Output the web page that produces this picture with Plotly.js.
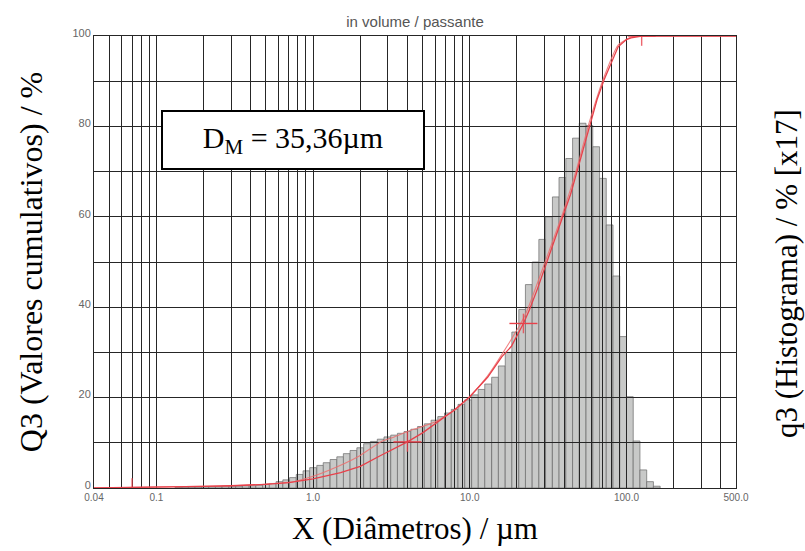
<!DOCTYPE html>
<html><head><meta charset="utf-8">
<script src="https://cdn.plot.ly/plotly-3.0.1.min.js"></script>
<style>html,body{margin:0;padding:0;background:#fff;} #chart{width:805px;height:551px;}</style>
</head><body><div id="chart"></div>
<script>
// Histogram classes (µm, class centres) and q3 heights (scaled x17, same 0-100 scale)
const binCenters = [0.138, 0.153, 0.168, 0.186, 0.205, 0.227, 0.250, 0.276, 0.305, 0.337,
  0.372, 0.411, 0.453, 0.501, 0.553, 0.610, 0.674, 0.744, 0.821, 0.907,
  1.00, 1.11, 1.22, 1.35, 1.49, 1.64, 1.81, 2.00, 2.21, 2.44,
  2.70, 2.98, 3.29, 3.63, 4.00, 4.42, 4.88, 5.39, 5.95, 6.57,
  7.25, 8.01, 8.84, 9.76, 10.8, 11.9, 13.1, 14.5, 16.0, 17.7,
  19.5, 21.6, 23.8, 26.3, 29.0, 32.0, 35.4, 39.0, 43.1, 47.6,
  52.5, 58.0, 64.1, 70.7, 78.1, 86.2, 95.2, 105.1, 116.0, 128.1,
  141.4, 156.1];
const q3Hist = [0.1, 0.2, 0.2, 0.2, 0.3, 0.3, 0.3, 0.4, 0.4, 0.4,
  0.5, 0.5, 0.6, 0.8, 1.0, 1.4, 1.8, 2.3, 3.0, 3.8,
  4.5, 5.0, 5.6, 6.3, 6.9, 7.6, 8.3, 8.9, 9.8, 10.3,
  10.8, 11.3, 11.7, 12.1, 12.5, 13.0, 13.6, 14.2, 15.0, 15.8,
  16.6, 17.4, 18.5, 19.5, 20.6, 21.8, 23.0, 24.5, 27.0, 30.0,
  34.5, 39.5, 45.0, 50.0, 55.0, 60.0, 64.4, 68.7, 72.9, 77.4,
  80.7, 80.2, 75.5, 68.5, 58.2, 46.9, 33.5, 20.2, 10.4, 4.0,
  1.4, 0.4];
const binLogWidth = 0.043;

// Cumulative curve Q3 (passante)
const cumX  = [0.04, 0.06, 0.1, 0.2, 0.3, 0.5, 0.7, 1.0, 1.5, 2.0, 2.7, 3.0, 4.0, 5.0, 6.0, 8.0, 10, 13, 16, 18.4, 22, 24, 27, 31, 35, 39.4, 44, 48, 53, 58, 65, 72, 80, 88.5, 100, 107, 125, 500];
const cumQ3 = [0, 0.05, 0.15, 0.35, 0.5, 0.8, 1.2, 2.0, 3.4, 4.8, 7.2, 8.0, 10.2, 12.2, 14.2, 17.3, 20.2, 24.5, 29, 31.3, 36.4, 39.4, 44, 50, 55, 60, 65, 69.6, 75, 80, 86, 90.3, 94, 97.6, 99.2, 99.6, 100, 100];
// Second (upper) cumulative trace
const cum2X  = [0.04, 0.3, 0.5, 0.75, 1.0, 1.6, 2.0, 2.7, 3.3, 4.0, 6.0, 8.0, 10, 13, 16, 22, 24, 31, 39.4, 48, 58, 72, 88.5, 107, 125, 500];
const cum2Q3 = [0, 0.5, 0.9, 1.4, 2.6, 5.5, 7.2, 10.2, 11.3, 12.5, 14.6, 17.2, 20.2, 24.8, 29.5, 37.5, 40.5, 51, 61, 70.5, 81, 91, 98, 99.8, 100, 100];

// Characteristic markers
const markHX = [4.0, 22, 125];
const markHY = [10.2, 36.4, 100];
const markVX = [0.07, 4.0, 22, 125];
const markVY = [0, 10.2, 36.4, 100];

// Axis ticks
const xTickVals = [0.04,0.05,0.06,0.07,0.08,0.09,0.1,0.2,0.3,0.4,0.5,0.6,0.7,0.8,0.9,1,2,3,4,5,6,7,8,9,10,20,30,40,50,60,70,80,90,100,200,300,400,500];
const xTickText = ['0.04','','','','','','0.1','','','','','','','','','1.0','','','','','','','','','10.0','','','','','','','','','100.0','','','','500.0'];
const yTickVals = [0,10,20,30,40,50,60,70,80,90,100];
const yTickText = ['0','','20','','40','','60','','80','','100'];

const xRange = [Math.log10(0.04), Math.log10(500)];
const red = '#e8404a';

const traces = [
  {type:'bar', x: binCenters.map(v => Math.log10(v)), y: q3Hist, width: binLogWidth,
   xaxis:'x', yaxis:'y', marker:{color:'rgb(200,201,200)', line:{color:'rgb(105,105,105)', width:0.7}}, hoverinfo:'skip'},
  {type:'scatter', mode:'lines', x: cum2X, y: cum2Q3, xaxis:'x2', yaxis:'y2',
   line:{color:'rgba(238,110,110,0.85)', width:1.1, shape:'spline', smoothing:0.5}},
  {type:'scatter', mode:'lines', x: cumX, y: cumQ3, xaxis:'x2', yaxis:'y2',
   line:{color:red, width:1.3}},
  {type:'scatter', mode:'markers', x: markHX, y: markHY, xaxis:'x2', yaxis:'y2',
   marker:{symbol:'line-ew', size:20, line:{color:red, width:1.4}}},
  {type:'scatter', mode:'markers', x: markVX, y: markVY, xaxis:'x2', yaxis:'y2',
   marker:{symbol:'line-ns', size:14, line:{color:'rgba(232,64,74,0.8)', width:1.4}}}
];

const serif = 'Liberation Serif, Times New Roman, serif';
const sans = 'Liberation Sans, Arial, sans-serif';

const layout = {
  width: 805, height: 551,
  margin: {l:94, r:69, t:36, b:63},
  paper_bgcolor:'#ffffff', plot_bgcolor:'rgba(0,0,0,0)',
  showlegend:false, bargap:0,
  title: {text:'in volume / passante', font:{family:sans, size:15, color:'#555'},
          x:0.5, xref:'paper', xanchor:'center', y:1-22/551, yref:'container', yanchor:'middle'},
  // histogram axes (q3, drawn first, beneath the grid)
  xaxis: {type:'linear', range:xRange, anchor:'y', visible:false, fixedrange:true},
  yaxis: {range:[0,100], anchor:'x', side:'right', showgrid:false, zeroline:false, showticklabels:false, ticks:'',
          showline:false, fixedrange:true},
  // cumulative axes (Q3) with the grid, drawn on top of the histogram
  xaxis2: {type:'log', range:xRange, anchor:'y2', tickmode:'array', tickvals:xTickVals, ticktext:xTickText,
           showgrid:true, gridcolor:'#262626', gridwidth:1, ticks:'', zeroline:false,
           tickfont:{family:sans, size:10, color:'#666'}, showline:true, linecolor:'#262626', mirror:true,
           title:{text:'X (Diâmetros) / µm', font:{family:serif, size:31, color:'#000'}, standoff:15}},
  yaxis2: {range:[0,100], anchor:'x2', tickmode:'array', tickvals:yTickVals, ticktext:yTickText,
           showgrid:true, gridcolor:'#262626', gridwidth:1, ticks:'', zeroline:false, ticklabelshift:-3,
           tickfont:{family:sans, size:11, color:'#666'}, showline:true, linecolor:'#262626', mirror:true,
           title:{text:'Q3 (Valores cumulativos) / %', font:{family:serif, size:32, color:'#000'}, standoff:20}},
  annotations: [
    {xref:'paper', yref:'paper', x:(293-94)/642, y:(488-140)/452, xanchor:'center', yanchor:'middle',
     text:'D<sub>M</sub> = 35,36µm', showarrow:false, font:{family:serif, size:30, color:'#000'},
     bgcolor:'#ffffff', bordercolor:'#000', borderwidth:2, width:258, height:54},
    {xref:'paper', yref:'paper', x:(786-94)/642, y:(488-273)/452, xanchor:'center', yanchor:'middle',
     text:'q3 (Histograma) / % [x17]', textangle:-90, showarrow:false,
     font:{family:serif, size:31, color:'#000'}}
  ]
};

Plotly.newPlot('chart', traces, layout, {staticPlot:true, displayModeBar:false});
</script>
</body></html>
